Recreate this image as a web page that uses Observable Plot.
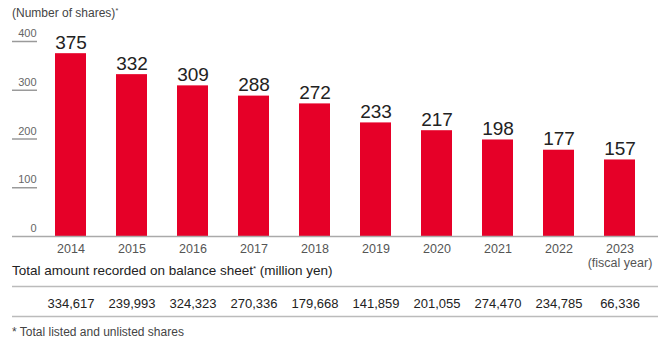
<!DOCTYPE html>
<html>
<head>
<meta charset="utf-8">
<script src="https://cdn.jsdelivr.net/npm/d3@7"></script>
<script src="https://cdn.jsdelivr.net/npm/@observablehq/plot@0.6"></script>
<style>
  html, body { margin: 0; padding: 0; background: #fff; }
  #wrap { position: relative; width: 660px; height: 342px; font-family: "Liberation Sans", Arial, Helvetica, sans-serif; }
  #wrap svg { position: absolute; left: 0; top: 0; overflow: visible; }
  .lbl { position: absolute; left: 12px; white-space: nowrap; }
  #title { top: 6px; font-size: 12px; line-height: 15px; color: #444; }
  #head { top: 262px; font-size: 13.5px; line-height: 17px; color: #222; }
  #foot { top: 325px; font-size: 12px; line-height: 14px; color: #444; }
  sup { font-size: 0.6em; vertical-align: 0.55em; line-height: 0; }
</style>
</head>
<body>
<div id="wrap">
  <div id="chart"></div>
  <div class="lbl" id="title">(Number of shares)<sup>*</sup></div>
  <div class="lbl" id="head">Total amount recorded on balance sheet<sup>*</sup> (million yen)</div>
  <div class="lbl" id="foot">* Total listed and unlisted shares</div>
</div>
<script>
const years = ["2014","2015","2016","2017","2018","2019","2020","2021","2022","2023"];
const yearLabels = ["2014","2015","2016","2017","2018","2019","2020","2021","2022","2023\n(fiscal year)"];
const shares = [375, 332, 309, 288, 272, 233, 217, 198, 177, 157];
const amounts = [334617, 239993, 324323, 270336, 179668, 141859, 201055, 274470, 234785, 66336];
const yTicks = [0, 100, 200, 300, 400];

const data = years.map((y, i) => ({year: y, label: yearLabels[i], shares: shares[i], amount: amounts[i]}));
const fmt = d3.format(",");

const chart = Plot.plot({
  width: 660,
  height: 342,
  marginTop: 41,
  marginBottom: 106,
  marginLeft: 37,
  marginRight: 8,
  style: {fontFamily: "'Liberation Sans', Arial, Helvetica, sans-serif", background: "#fff"},
  x: {domain: years, paddingInner: 0.5, paddingOuter: 0.264, label: null, axis: null},
  y: {domain: [0, 400], label: null, axis: null},
  marks: [
    Plot.axisY({ticks: yTicks.filter(d => d > 0), tickSize: 25, tickFormat: () => "", label: null, stroke: "#9a9a9a", strokeWidth: 1.5}),
    Plot.text(yTicks, {y: d => d, frameAnchor: "left", textAnchor: "end", dx: -1, dy: -8, fontSize: 11, fill: "#666", text: d => String(d)}),
    Plot.barY(data, {x: "year", y: "shares", fill: "#e60028"}),
    Plot.ruleY([0], {stroke: "#aaa", strokeWidth: 1.5, insetLeft: -25, insetRight: -6}),
    Plot.ruleY([0], {stroke: "#bbb", strokeWidth: 1.5, insetLeft: -25, insetRight: -6, dy: 50}),
    Plot.ruleY([0], {stroke: "#bbb", strokeWidth: 1.5, insetLeft: -25, insetRight: -6, dy: 80}),
    Plot.text(data, {x: "year", y: "shares", text: d => String(d.shares), lineAnchor: "bottom", dy: -5, fontSize: 19, fill: "#222"}),
    Plot.text(data, {x: "year", frameAnchor: "bottom", text: "label", lineAnchor: "top", dy: 6, fontSize: 12.5, lineHeight: 1.15, fill: "#555"}),
    Plot.text(data, {x: "year", frameAnchor: "bottom", text: d => fmt(d.amount), dy: 67, lineAnchor: "middle", fontSize: 13, fill: "#222"})
  ]
});
document.getElementById("chart").appendChild(chart);
</script>
</body>
</html>
